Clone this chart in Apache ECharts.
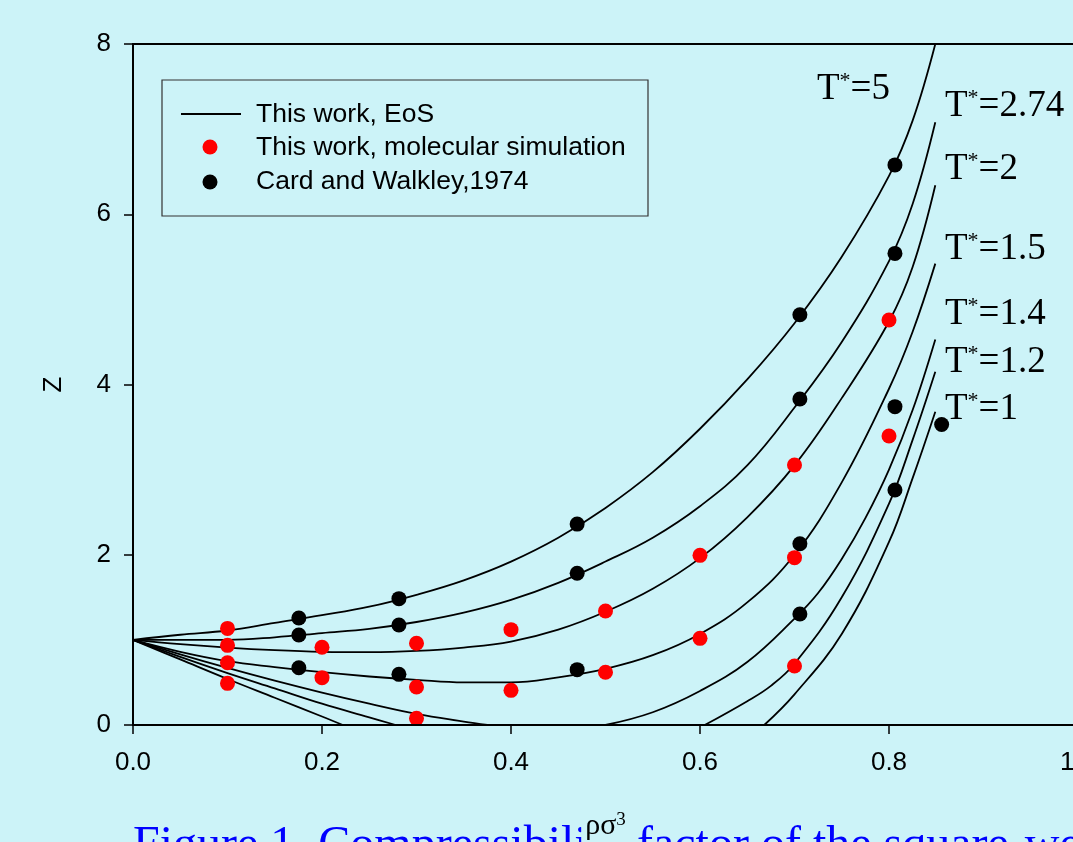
<!DOCTYPE html>
<html>
<head>
<meta charset="utf-8">
<script src="https://cdn.jsdelivr.net/npm/echarts@6/dist/echarts.min.js"></script>
<style>html,body{margin:0;padding:0;background:#CCF3F8;}#c{width:1073px;height:842px;}</style>
</head>
<body>
<div id="c"></div>
<script>
// ---- data ----
const xTicks = [0, 0.2, 0.4, 0.6, 0.8, 1.0];
const yTicks = [0, 2, 4, 6, 8];
const tempLabels = ['5', '2.74', '2', '1.5', '1.4', '1.2', '1'];

// EoS curves, Z vs reduced density
const eosT5 = [[0,1],[0.05,1.06],[0.1,1.11],[0.15,1.2],[0.2,1.29],[0.25,1.39],[0.3,1.53],[0.35,1.7],[0.4,1.92],[0.45,2.2],[0.5,2.55],[0.55,2.97],[0.6,3.48],[0.65,4.06],[0.7,4.72],[0.75,5.5],[0.8,6.45],[0.825,7.1],[0.849,8.0]];
const eosT274 = [[0,1],[0.05,1.0],[0.1,1.0],[0.15,1.03],[0.2,1.08],[0.25,1.13],[0.3,1.21],[0.35,1.32],[0.4,1.47],[0.45,1.67],[0.5,1.92],[0.55,2.2],[0.6,2.57],[0.65,3.05],[0.7,3.73],[0.75,4.5],[0.8,5.45],[0.825,6.12],[0.849,7.08]];
const eosT2 = [[0,1],[0.05,0.95],[0.1,0.91],[0.15,0.88],[0.2,0.86],[0.25,0.855],[0.3,0.87],[0.35,0.91],[0.4,0.98],[0.45,1.12],[0.5,1.33],[0.55,1.6],[0.6,1.96],[0.65,2.44],[0.7,3.05],[0.75,3.84],[0.8,4.74],[0.825,5.38],[0.849,6.34]];
const eosT15 = [[0,1],[0.05,0.86],[0.1,0.75],[0.15,0.68],[0.2,0.62],[0.25,0.57],[0.3,0.53],[0.35,0.5],[0.4,0.5],[0.45,0.56],[0.5,0.66],[0.55,0.82],[0.6,1.07],[0.65,1.44],[0.7,2.0],[0.75,2.85],[0.8,3.95],[0.825,4.62],[0.849,5.42]];
const eosT14Low = [[0,1],[0.05,0.83],[0.1,0.67],[0.15,0.52],[0.2,0.38],[0.25,0.25],[0.3,0.13],[0.35,0.04],[0.375,0]];
const eosT14High = [[0.5,0],[0.55,0.15],[0.6,0.4],[0.65,0.74],[0.7,1.25],[0.725,1.55],[0.75,1.95],[0.775,2.43],[0.8,3.0],[0.825,3.7],[0.849,4.53]];
const eosT12Low = [[0,1],[0.05,0.8],[0.1,0.61],[0.15,0.43],[0.2,0.25],[0.25,0.09],[0.278,0]];
const eosT12High = [[0.605,0],[0.65,0.28],[0.675,0.46],[0.7,0.72],[0.75,1.5],[0.8,2.6],[0.825,3.35],[0.849,4.15]];
const eosT1Low = [[0,1],[0.05,0.77],[0.1,0.54],[0.15,0.32],[0.2,0.1],[0.222,0]];
const eosT1High = [[0.668,0],[0.7,0.36],[0.75,1.07],[0.8,2.15],[0.825,2.9],[0.849,3.68]];

// This work, molecular simulation (red)
const simPoints = [[0.1,1.135],[0.1,0.936],[0.1,0.732],[0.1,0.489],[0.2,0.913],[0.2,0.556],[0.3,0.96],[0.3,0.446],[0.3,0.078],[0.4,1.12],[0.4,0.407],[0.5,1.339],[0.5,0.619],[0.6,1.993],[0.6,1.018],[0.7,3.054],[0.7,1.966],[0.7,0.693],[0.8,4.758],[0.8,3.395]];
// Card and Walkley, 1974 (black)
const cwPoints = [[0.1755,1.257],[0.1755,1.057],[0.1755,0.673],[0.2814,1.484],[0.2814,1.175],[0.2814,0.595],[0.47,2.36],[0.47,1.782],[0.47,0.65],[0.7057,4.82],[0.7057,3.83],[0.7057,2.13],[0.7057,1.304],[0.8063,6.58],[0.8063,5.54],[0.8063,3.74],[0.8063,2.76],[0.8557,3.53]];

const legendNames = ['This work, EoS', 'This work, molecular simulation', 'Card and Walkley,1974'];
const captionText = 'Figure 1. Compressibility factor of the square-well fluid';

// ---- chart ----
const bg = '#CCF3F8';
const chart = echarts.init(document.getElementById('c'), null, {renderer: 'canvas'});
const curves = [eosT5, eosT274, eosT2, eosT15, eosT14Low, eosT14High, eosT12Low, eosT12High, eosT1Low, eosT1High];
const lineSeries = curves.map(d => ({
  name: legendNames[0], type: 'line', data: d, smooth: 0.4, showSymbol: false, symbol: 'none',
  lineStyle: {color: '#000', width: 1.8}, z: 2, silent: true
}));

const sansFont = 'Liberation Sans';
const serifFont = 'Liberation Serif';
const labelY = [89, 106, 169, 249, 314, 362, 409];
const labelX = [817, 945, 945, 945, 945, 945, 945];

const tLabelGraphics = tempLabels.map((t, i) => ({
  type: 'text', x: labelX[i], y: labelY[i], z: 10,
  style: {
    text: '{t|T}{s|*}{t|=' + t + '}',
    textVerticalAlign: 'middle', textAlign: 'left',
    rich: {
      t: {fontFamily: serifFont, fontSize: 37, fill: '#000', color: '#000'},
      s: {fontFamily: serifFont, fontSize: 22, fill: '#000', color: '#000', verticalAlign: 'top'}
    }
  }
}));

const legendGraphics = [
  {type: 'rect', shape: {x: 162, y: 80, width: 486, height: 136}, style: {fill: 'none', stroke: '#333', lineWidth: 1.2}, z: 10},
  {type: 'line', shape: {x1: 181, y1: 114, x2: 241, y2: 114}, style: {stroke: '#000', lineWidth: 1.8}, z: 10},
  {type: 'circle', shape: {cx: 210, cy: 147, r: 7.5}, style: {fill: '#FF0000'}, z: 10},
  {type: 'circle', shape: {cx: 210, cy: 182, r: 7.5}, style: {fill: '#000'}, z: 10},
  {type: 'text', x: 256, y: 115, z: 10, style: {text: legendNames[0], font: '26.5px ' + sansFont, fill: '#000', textVerticalAlign: 'middle'}},
  {type: 'text', x: 256, y: 148, z: 10, style: {text: legendNames[1], font: '26.5px ' + sansFont, fill: '#000', textVerticalAlign: 'middle'}},
  {type: 'text', x: 256, y: 182, z: 10, style: {text: legendNames[2], font: '26.5px ' + sansFont, fill: '#000', textVerticalAlign: 'middle'}}
];

const option = {
  backgroundColor: bg,
  animation: false,
  title: {
    text: captionText, left: 133, top: 822, padding: 0, z: 0,
    textStyle: {fontFamily: serifFont, fontSize: 48, fontWeight: 'normal', color: '#0000FF'}
  },
  grid: {left: 133, top: 44, right: -5, bottom: 117, show: true, borderColor: '#000', borderWidth: 2, backgroundColor: 'transparent', containLabel: false, outerBoundsMode: 'none'},
  xAxis: {
    type: 'value', min: xTicks[0], max: xTicks[xTicks.length - 1], interval: 0.2, z: 5,
    axisLine: {show: true, onZero: false, lineStyle: {color: '#000', width: 2}},
    axisTick: {show: true, inside: false, length: 9, lineStyle: {color: '#000', width: 1.5}},
    axisLabel: {margin: 25, fontSize: 26, fontFamily: sansFont, color: '#000', formatter: v => v.toFixed(1), showMaxLabel: true, showMinLabel: true},
    splitLine: {show: false},
    name: '{a|ρσ}{b|3}', nameLocation: 'middle', nameGap: 86,
    nameTextStyle: {
      backgroundColor: bg, padding: [0, 4, 20, 4],
      rich: {
        a: {fontFamily: serifFont, fontSize: 30, color: '#000'},
        b: {fontFamily: serifFont, fontSize: 19, color: '#000', verticalAlign: 'top'}
      }
    }
  },
  yAxis: {
    type: 'value', min: yTicks[0], max: yTicks[yTicks.length - 1], interval: 2, z: 5,
    axisLine: {show: true, onZero: false, lineStyle: {color: '#000', width: 2}},
    axisTick: {show: true, inside: false, length: 9, lineStyle: {color: '#000', width: 1.5}},
    axisLabel: {margin: 22, fontSize: 26, fontFamily: sansFont, color: '#000'},
    splitLine: {show: false},
    name: 'Z', nameLocation: 'middle', nameGap: 66, nameRotate: 90,
    nameTextStyle: {fontFamily: sansFont, fontSize: 26, color: '#000'}
  },
  series: lineSeries.concat([
    {name: legendNames[2], type: 'scatter', data: cwPoints, symbol: 'circle', symbolSize: 15, itemStyle: {color: '#000', opacity: 1}, z: 3, silent: true},
    {name: legendNames[1], type: 'scatter', data: simPoints, symbol: 'circle', symbolSize: 15, itemStyle: {color: '#FF0000', opacity: 1}, z: 4, silent: true}
  ]),
  graphic: legendGraphics.concat(tLabelGraphics)
};
chart.setOption(option);
</script>
</body>
</html>
